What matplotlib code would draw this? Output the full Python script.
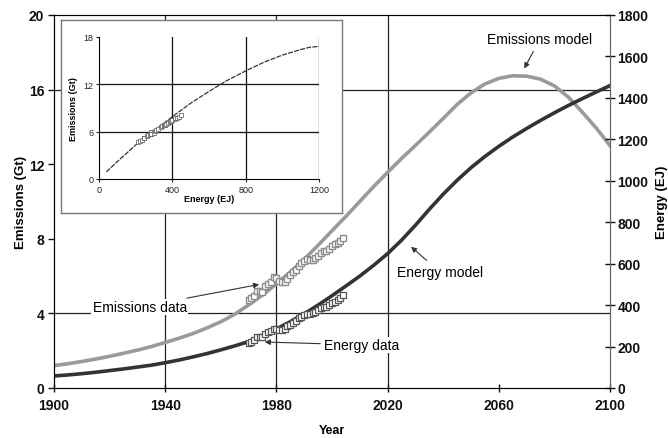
import matplotlib.pyplot as plt

plt.rcParams['font.family'] = ['Liberation Sans', 'DejaVu Sans']

# model curves, by year
years = list(range(1900, 2101, 5))
emis_model = [1.2, 1.3, 1.42, 1.55, 1.7, 1.86, 2.03, 2.22, 2.44, 2.67,
              2.92, 3.22, 3.55, 3.95, 4.45, 4.98, 5.58, 6.22, 6.9, 7.65,
              8.43, 9.2, 10.0, 10.8, 11.56, 12.3, 13.0, 13.72, 14.45, 15.2,
              15.82, 16.3, 16.6, 16.74, 16.72, 16.56, 16.2, 15.6, 14.8, 13.95,
              13.0]
energy_model = [58, 63, 69, 76, 84, 92, 101, 110, 122, 135,
                150, 166, 184, 203, 224, 252, 285, 320, 358, 400,
                445, 492, 540, 592, 648, 713, 785, 862, 935, 1002,
                1063, 1117, 1166, 1211, 1252, 1291, 1328, 1363, 1396, 1428,
                1459]

# observed data, 1970-2004
data_years = list(range(1970, 2005))
emis_data = [4.7, 4.85, 4.95, 5.2, 5.2, 5.15, 5.45, 5.6, 5.7, 5.95,
             5.9, 5.75, 5.7, 5.7, 5.85, 6.05, 6.2, 6.35, 6.55, 6.7,
             6.8, 6.9, 6.85, 6.85, 6.95, 7.1, 7.25, 7.35, 7.35, 7.45,
             7.6, 7.7, 7.75, 7.9, 8.05]
energy_data = [215, 222, 232, 244, 245, 248, 260, 268, 276, 286,
               285, 282, 281, 286, 298, 306, 313, 324, 336, 344,
               352, 356, 358, 362, 366, 376, 386, 390, 392, 400,
               412, 416, 424, 436, 448]

# inset: emissions model against energy model
inset_energy = [40, 100, 200, 300, 400, 500, 600, 700, 800, 900, 1000, 1100, 1150, 1200]
inset_emis = [0.9, 2.2, 4.3, 6.1, 7.9, 9.6, 11.1, 12.5, 13.7, 14.8, 15.7, 16.4, 16.7, 16.8]

fig = plt.figure(figsize=(6.68, 4.39), dpi=100)
ax = fig.add_axes([0.0808, 0.1139, 0.8323, 0.8497])
ax2 = ax.twinx()

ax.set_xlim(1900, 2100)
ax.set_ylim(0, 20)
ax2.set_ylim(0, 1800)
ax.set_xticks([1900, 1940, 1980, 2020, 2060, 2100])
ax.set_yticks([0, 4, 8, 12, 16, 20])
ax2.set_yticks(range(0, 1801, 200))

for y in [4, 16]:
    ax.axhline(y, color='#222222', lw=0.9, zorder=0)
for x in [1940, 1980, 2020]:
    ax.axvline(x, color='#222222', lw=0.9, zorder=0)

ax.plot(years, emis_model, color='#9a9a9a', lw=2.6, zorder=2)
ax.plot(data_years, emis_data, 's', ms=5, mfc='white', mec='#8c8c8c', mew=1.0, zorder=3)
ax2.plot(years, energy_model, color='#333333', lw=2.6, zorder=2)
ax2.plot(data_years, energy_data, 's', ms=4.5, mfc='white', mec='#555555', mew=0.9, zorder=3)

for a in (ax, ax2):
    a.tick_params(labelsize=10, colors='#111111', width=1)
    for lab in a.get_xticklabels() + a.get_yticklabels():
        lab.set_fontweight('bold')
ax.tick_params(axis='y', direction='out', length=4, pad=3)
ax.tick_params(axis='x', direction='inout', length=6, pad=4)
ax2.tick_params(axis='y', direction='inout', length=7, pad=2)
for s in ax.spines.values():
    s.set_color('#555555')
ax.spines['left'].set_color('#222222')
ax2.spines['right'].set_color('#666666')

ax.set_xlabel('Year', fontsize=9, fontweight='bold', labelpad=9)
ax.set_ylabel('Emissions (Gt)', fontsize=9.5, fontweight='bold', labelpad=1)
ax2.set_ylabel('Energy (EJ)', fontsize=9.5, fontweight='bold', labelpad=5)

arrow = dict(arrowstyle='-|>', color='#333333', lw=0.8, mutation_scale=8)
ax2.annotate('Emissions model', xy=(2068.7, 17.0 * 90), xytext=(2074.8, 18.7 * 90),
             fontsize=10, ha='center', va='center', arrowprops=arrow)
ax2.annotate('Emissions data', xy=(1974.8, 5.58 * 90), xytext=(1930.9, 4.34 * 90),
             fontsize=10, ha='center', va='center',
             bbox=dict(fc='white', ec='none', pad=1), arrowprops=arrow)
ax2.annotate('Energy model', xy=(2027.7, 7.67 * 90), xytext=(2038.8, 6.22 * 90),
             fontsize=10, ha='center', va='center', arrowprops=arrow)
ax2.annotate('Energy data', xy=(1974.8, 2.47 * 90), xytext=(2010.8, 2.31 * 90),
             fontsize=10, ha='center', va='center',
             bbox=dict(fc='white', ec='none', pad=1), arrowprops=arrow)

# inset frame
frame = fig.add_axes([0.0913, 0.5125, 0.4207, 0.4396])
frame.set_xticks([])
frame.set_yticks([])
for s in frame.spines.values():
    s.set_color('#7a7a7a')
    s.set_linewidth(1.0)

ins = fig.add_axes([0.1482, 0.5900, 0.3293, 0.3235])
ins.set_xlim(0, 1200)
ins.set_ylim(0, 18)
ins.set_xticks([0, 400, 800, 1200])
ins.set_yticks([0, 6, 12, 18])
for x in [400, 800, 1200]:
    ins.axvline(x, color='#111111', lw=0.9, zorder=0)
for y in [6, 12]:
    ins.axhline(y, color='#111111', lw=0.9, zorder=0)
ins.plot(inset_energy, inset_emis, color='#333333', lw=0.9, ls=(0, (4, 1)))
ins.plot(energy_data, emis_data, 's', ms=2.5, mfc='white', mec='#555555', mew=0.5)
ins.spines['top'].set_visible(False)
ins.spines['right'].set_visible(False)
ins.tick_params(labelsize=6.5, length=2, pad=2, colors='#222222')
ins.set_xlabel('Energy (EJ)', fontsize=6.5, fontweight='bold', labelpad=0)
ins.set_ylabel('Emissions (Gt)', fontsize=6.5, fontweight='bold', labelpad=4)

fig.savefig('out.png', dpi=100)
